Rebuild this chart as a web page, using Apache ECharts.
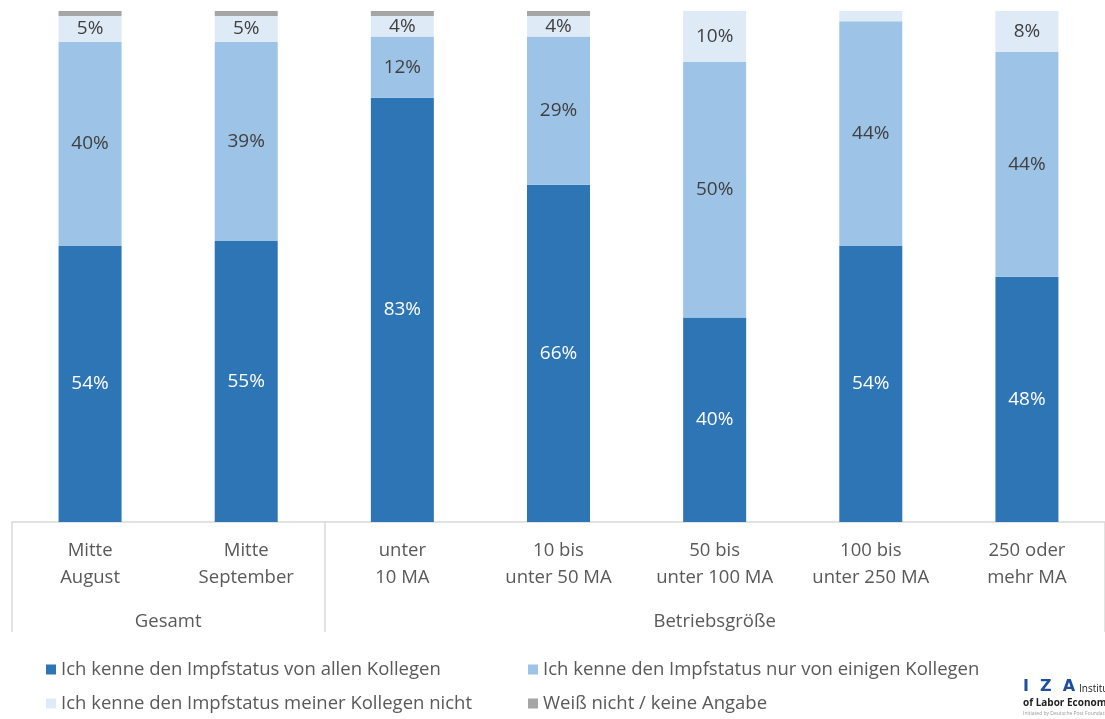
<!DOCTYPE html>
<html>
<head>
<meta charset="utf-8">
<script src="https://cdn.jsdelivr.net/npm/echarts@6/dist/echarts.min.js"></script>
<style>
  html, body { margin: 0; padding: 0; background: #fff; }
  #chart { width: 1105px; height: 719px; }
</style>
</head>
<body>
<div id="chart"></div>
<script>
// Kategorien (Zeitpunkt bzw. Betriebsgröße)
const categories = [
  'Mitte\nAugust',
  'Mitte\nSeptember',
  'unter\n10 MA',
  '10 bis\nunter 50 MA',
  '50 bis\nunter 100 MA',
  '100 bis\nunter 250 MA',
  '250 oder\nmehr MA'
]

// Gruppen unter der Achse und ihre Mitte (in Kategorie-Einheiten)
const groupNames = ['Gesamt', 'Betriebsgröße']
const groupCenters = [1, 4.5]

// Reihen (Anteile in %)
const seriesNames = [
  'Ich kenne den Impfstatus von allen Kollegen',
  'Ich kenne den Impfstatus nur von einigen Kollegen',
  'Ich kenne den Impfstatus meiner Kollegen nicht',
  'Weiß nicht / keine Angabe'
]
const allKnown = [54, 55, 83, 66, 40, 54, 48]
const someKnown = [40, 39, 12, 29, 50, 44, 44]
const noneKnown = [5, 5, 4, 4, 10, 2, 8]
const dontKnow = [1, 1, 1, 1, 0, 0, 0]

const COLORS = ['#2e75b6', '#9dc3e6', '#deebf7', '#a5a5a5']
const LABEL_COLORS = ['#ffffff', '#404040', '#404040', '#404040']
const FONT = '"Open Sans", sans-serif'
const TEXT_GRAY = '#595959'

const chart = echarts.init(document.getElementById('chart'), null, { renderer: 'canvas' })

const seriesValues = [allKnown, someKnown, noneKnown, dontKnow]

const series = seriesValues.map((values, i) => ({
  name: seriesNames[i],
  type: 'bar',
  stack: 'total',
  barWidth: 63,
  itemStyle: { color: COLORS[i] },
  label: {
    show: true,
    position: 'inside',
    color: LABEL_COLORS[i],
    fontFamily: FONT,
    fontSize: 19,
    // kleine Segmente ohne Beschriftung
    formatter: p => (p.value >= 3 ? p.value + '%' : '')
  },
  emphasis: { disabled: true },
  data: values
}))

// Legende: 2 Spalten x 2 Zeilen, je ein Eintrag pro Komponente
const legendCols = [41, 523]
const legendRows = [655, 689]
const legends = seriesNames.map((name, i) => ({
  left: legendCols[i % 2],
  top: legendRows[Math.floor(i / 2)],
  itemWidth: 10,
  itemHeight: 10,
  icon: 'rect',
  selectedMode: false,
  textStyle: {
    color: TEXT_GRAY,
    fontFamily: FONT,
    fontSize: 18.5
  },
  data: [name]
}))

const option = {
  backgroundColor: '#ffffff',
  animation: false,
  grid: {
    left: 12,
    top: 11,
    width: 1099,
    bottom: 197
  },
  legend: legends,
  xAxis: [
    {
      type: 'category',
      data: categories,
      axisLine: { lineStyle: { color: '#d9d9d9', width: 1.5 } },
      axisTick: {
        show: true,
        length: 110,
        lineStyle: { color: '#d9d9d9', width: 1.5 },
        // nur Trennlinien zwischen den Gruppen
        interval: (index) => index === 0 || index === 2
      },
      axisLabel: {
        color: TEXT_GRAY,
        fontFamily: FONT,
        fontSize: 18.5,
        lineHeight: 27,
        margin: 15,
        interval: 0
      }
    },
    {
      type: 'value',
      position: 'bottom',
      min: 0,
      max: 7,
      offset: 82,
      axisLine: { show: false },
      axisTick: { show: false },
      splitLine: { show: false },
      axisLabel: {
        customValues: groupCenters,
        color: TEXT_GRAY,
        fontFamily: FONT,
        fontSize: 18.5,
        formatter: v => groupNames[groupCenters.indexOf(v)]
      }
    }
  ],
  yAxis: {
    type: 'value',
    min: 0,
    max: 100,
    show: false
  },
  graphic: [
    {
      type: 'text',
      left: 1023,
      top: 679,
      style: { text: 'I  Z  A', fill: '#1f4e9c', font: 'bold 16px "DejaVu Sans", sans-serif' }
    },
    {
      type: 'text',
      left: 1079,
      top: 684,
      style: { text: 'Institute', fill: '#222', font: '10px "Open Sans", sans-serif' }
    },
    {
      type: 'text',
      left: 1023,
      top: 698,
      style: { text: 'of Labor Economics', fill: '#222', font: 'bold 10px "Open Sans", sans-serif' }
    },
    {
      type: 'text',
      left: 1023,
      top: 711,
      style: { text: 'Initiated by Deutsche Post Foundation', fill: '#999', font: '5px "Open Sans", sans-serif' }
    }
  ],
  series: series
}

chart.setOption(option)
</script>
</body>
</html>
